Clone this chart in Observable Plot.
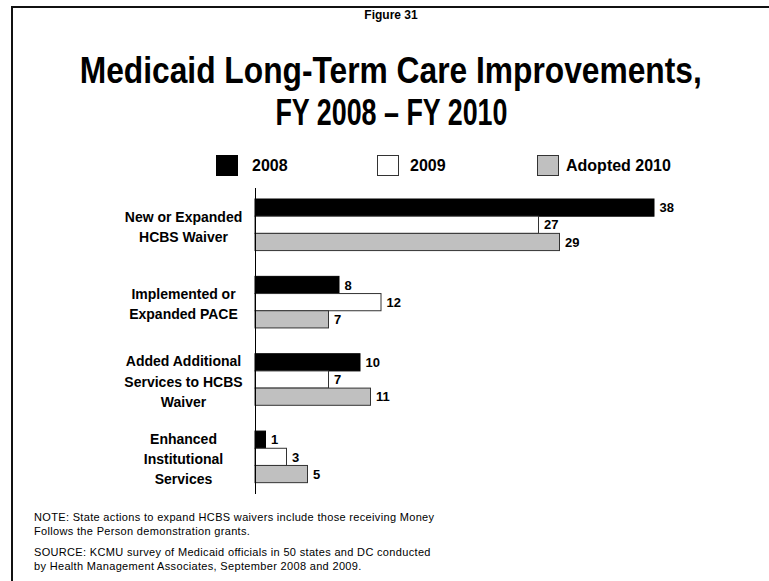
<!DOCTYPE html>
<html>
<head>
<meta charset="utf-8">
<script src="https://cdn.jsdelivr.net/npm/d3@7"></script>
<script src="https://cdn.jsdelivr.net/npm/@observablehq/plot@0.6"></script>
<style>
  html, body { margin: 0; padding: 0; background: #fff; }
  body { width: 769px; height: 581px; overflow: hidden; font-family: "Liberation Sans", Arial, sans-serif; }
  #fig { position: relative; width: 769px; height: 581px; overflow: hidden; }
  #frame { position: absolute; left: 11px; top: 6px; right: -10px; bottom: -10px; border-left: 2px solid #111; border-top: 2px solid #111; }
  .abs { position: absolute; }
  #fignum { left: 13px; right: 0; top: 8px; text-align: center; font-weight: bold; font-size: 12px; }
  .title { left: 13px; right: 0; text-align: center; font-weight: bold; font-size: 36px; line-height: 40px; white-space: nowrap; }
  .title span { display: inline-block; transform-origin: center; }
  #legend { top: 155px; left: 0; height: 21px; }
  .sw { position: absolute; top: 0; width: 20px; height: 19px; border: 1px solid #333; }
  .lab { position: absolute; top: 1px; font-weight: bold; font-size: 16px; line-height: 19px; white-space: nowrap; }
  #chart { top: 178px; left: 0; }
  .note { left: 34px; font-size: 11px; line-height: 14px; color: #000; white-space: nowrap; letter-spacing: 0.33px; }
</style>
</head>
<body>
<div id="fig">
  <div id="frame"></div>
  <div id="fignum" class="abs">Figure 31</div>
  <div class="abs title" style="top:51px"><span id="t1">Medicaid Long-Term Care Improvements,</span></div>
  <div class="abs title" style="top:93px"><span id="t2">FY 2008 – FY 2010</span></div>
  <div id="legend" class="abs"></div>
  <div id="chart" class="abs"></div>
  <div class="abs note" style="top:510px">NOTE: State actions to expand HCBS waivers include those receiving Money<br>Follows the Person demonstration grants.</div>
  <div class="abs note" style="top:545px">SOURCE: KCMU survey of Medicaid officials in 50 states and DC conducted<br>by Health Management Associates, September 2008 and 2009.</div>
</div>
<script>
// ---- data ----
const categories = [
  "New or Expanded HCBS Waiver",
  "Implemented or Expanded PACE",
  "Added Additional Services to HCBS Waiver",
  "Enhanced Institutional Services"
];
const categoryLabels = [
  "New or Expanded\nHCBS Waiver",
  "Implemented or\nExpanded PACE",
  "Added Additional\nServices to HCBS\nWaiver",
  "Enhanced\nInstitutional\nServices"
];
const series = ["2008", "2009", "Adopted 2010"];
const values2008 = [38, 8, 10, 1];
const values2009 = [27, 12, 7, 3];
const values2010 = [29, 7, 11, 5];
const seriesColors = ["#000000", "#ffffff", "#c0c0c0"];

// ---- fit titles to reference widths ----
function fit(id, target) {
  const el = document.getElementById(id);
  const w = el.getBoundingClientRect().width;
  el.style.transform = `scaleX(${target / w})`;
}
fit("t1", 622);
fit("t2", 232);

// ---- legend ----
const legendPos = [[216, 252], [377, 410], [537, 566]];
const legend = document.getElementById("legend");
series.forEach((s, i) => {
  const sw = document.createElement("div");
  sw.className = "sw";
  sw.style.left = legendPos[i][0] + "px";
  sw.style.background = seriesColors[i];
  if (i === 0) sw.style.borderColor = "#000";
  legend.appendChild(sw);
  const lab = document.createElement("div");
  lab.className = "lab";
  lab.style.left = legendPos[i][1] + "px";
  lab.textContent = s;
  legend.appendChild(lab);
});

// ---- chart ----
const groupStep = 4.5;
const allValues = [values2008, values2009, values2010];
const rows = [];
categories.forEach((c, ci) => {
  series.forEach((s, si) => {
    rows.push({cat: c, series: s, value: allValues[si][ci], pos: ci * groupStep + si});
  });
});

const chart = Plot.plot({
  width: 769,
  height: 325,
  marginTop: 10,
  marginBottom: 9,
  marginLeft: 255,
  marginRight: 94,
  style: {fontFamily: "'Liberation Sans', Arial, sans-serif", background: "transparent", overflow: "visible"},
  x: {domain: [0, 40], axis: null},
  y: {type: "linear", domain: [-0.64, (categories.length - 1) * groupStep + 3 + 0.66], reverse: true, axis: null},
  color: {domain: series, range: seriesColors},
  marks: [
    Plot.rect(rows, {
      x1: 0, x2: "value",
      y1: "pos", y2: d => d.pos + 1,
      fill: "series",
      stroke: d => d.series === "2008" ? "#000" : "#333",
      strokeWidth: 1
    }),
    Plot.ruleX([0], {stroke: "#000", strokeWidth: 1}),
    Plot.text(rows, {
      x: "value", y: d => d.pos + 0.5,
      text: d => String(d.value),
      dx: 5, textAnchor: "start",
      fontWeight: "bold", fontSize: 13, fill: "#000"
    }),
    Plot.text(categoryLabels, {
      x: 0, y: (d, i) => i * groupStep + 1.5,
      text: d => d,
      dx: -72, textAnchor: "middle",
      fontWeight: "bold", fontSize: 14, lineHeight: 1.45, fill: "#000"
    })
  ]
});
document.getElementById("chart").appendChild(chart);
</script>
</body>
</html>
